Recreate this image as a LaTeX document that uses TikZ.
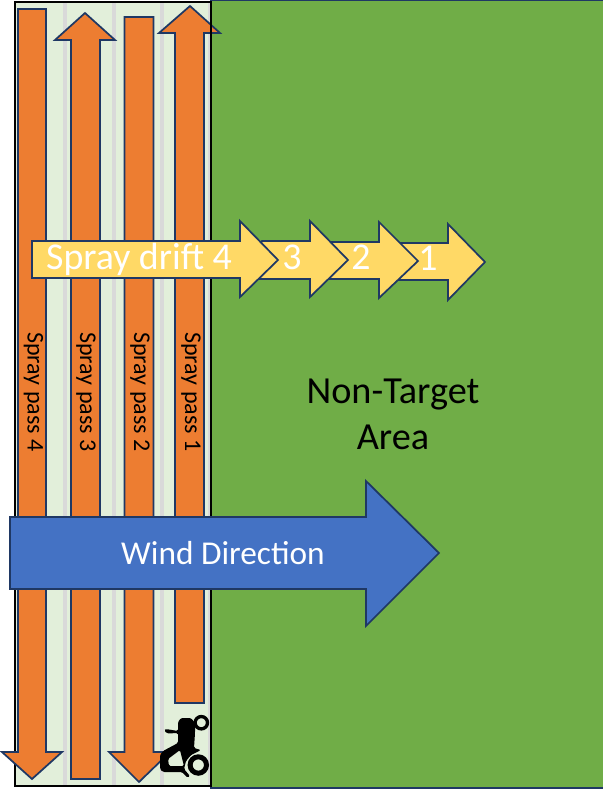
\documentclass[tikz,border=0pt]{standalone}
\usepackage{fontspec}
\setmainfont{Carlito}
\definecolor{edgeblue}{HTML}{1F3864}
\definecolor{fieldgreen}{HTML}{70AD47}
\definecolor{buffer}{HTML}{E2EFDA}
\definecolor{stripe}{HTML}{D9D9D9}
\definecolor{passorange}{HTML}{ED7D31}
\definecolor{driftyellow}{HTML}{FFD966}
\definecolor{windblue}{HTML}{4472C4}
\tikzset{
  pass/.style={fill=passorange,draw=edgeblue,line width=1.3pt,line join=miter},
  drift/.style={fill=driftyellow,draw=edgeblue,line width=1.3pt,line join=miter},
  wind/.style={fill=windblue,draw=edgeblue,line width=1.3pt,line join=miter},
  frameline/.style={draw=black,line width=1.5pt},
  passlabel/.style={rotate=-90,font=\fontsize{18}{20}\selectfont,text=black,inner sep=0pt},
  driftlabel/.style={text=white,inner sep=0pt,anchor=base,font=\fontsize{28.4}{32}\selectfont},
  stripeline/.style={fill=stripe,draw=none}
}
\begin{document}
\begin{tikzpicture}[x=0.75pt,y=-0.75pt]
\useasboundingbox (0,0) rectangle (603,789);
\fill[white] (0,0) rectangle (603,789);
% fields
\fill[buffer] (15,2) rectangle (211,786);
\draw[fill=fieldgreen,draw=edgeblue,line width=0.9pt] (211,0.5) rectangle (603.5,788);
\foreach \x in {63,112,160,208}
  \fill[stripeline] (\x,3) rectangle (\x+4,785);
\draw[frameline] (15,2) rectangle (211,786);
\fill[fieldgreen] (212,2) rectangle (603,787);
% spray passes
\draw[pass] (18,9) -- (46,9) -- (46,752) -- (62,752) -- (32,779) -- (2,752) -- (18,752) -- cycle;
\draw[pass] (85,13) -- (115,40) -- (100,40) -- (100,779) -- (71,779) -- (71,40) -- (55,40) -- cycle;
\draw[pass] (124.5,17) -- (153.5,17) -- (153.5,752) -- (170,752) -- (139,782) -- (109,752) -- (124.5,752) -- cycle;
\draw[pass] (190,6) -- (220,33) -- (204,33) -- (204,703) -- (175,703) -- (175,33) -- (159,33) -- cycle;
\draw[frameline] (211,2) -- (211,786);
% drift arrows
\draw[drift] (400,243) -- (448,243) -- (448,224) -- (485,262) -- (448,300) -- (448,280) -- (385,280) -- cycle;
\draw[drift] (330,242) -- (379,242) -- (379,222) -- (418,261) -- (379,298) -- (379,279) -- (315,279) -- cycle;
\draw[drift] (262,241) -- (310,241) -- (310,221) -- (348,260) -- (310,297) -- (310,279) -- (245,279) -- cycle;
\draw[drift] (32,241) -- (240,241) -- (240,221) -- (278,260) -- (240,297) -- (240,278) -- (32,278) -- cycle;
% wind arrow
\draw[wind] (10,517) -- (366,517) -- (366,481) -- (439,553) -- (366,626) -- (366,589) -- (10,589) -- cycle;
% tractor
\begin{scope}[black]
  \draw[line width=2.5pt,fill=buffer] (201.3,722.7) circle (6.2);
  \draw[line width=3.75pt,fill=buffer] (198.3,765) circle (8.2);
  \fill[even odd rule] [rounded corners=1.1pt] (178,722) -- (181,718) -- (191,718) -- (195,723) -- (195,733) -- (194,748) -- (201,750) -- (191,755) -- (186,761) -- (184,769) -- (190,776) -- (188,778) -- (182,772)
    -- (163,772) -- (160,769) -- (160,755) -- (163,751) -- (178,743) -- (178,733) -- (167,733.5) -- (164,730) -- (166,729) -- (178,731) -- cycle
    (168,759) -- (180,750) -- (184,766) -- (169,766) -- cycle;
\end{scope}
% text
\node[passlabel] (p4) at (33.5,392) {Spray pass 4};
\node[passlabel] (p3) at (86,392) {Spray pass 3};
\node[passlabel] (p2) at (140,392) {Spray pass 2};
\node[passlabel] (p1) at (191,392) {Spray pass 1};
\node[driftlabel] (d4) at (139,269) {Spray drift 4};
\node[driftlabel] (d3) at (292,269) {3};
\node[driftlabel] (d2) at (361,269) {2};
\node[driftlabel] (d1) at (428,270) {1};
\node[font=\fontsize{28.7}{34.5}\selectfont,align=center,text=black,inner sep=0pt] (area) at (393,414) {Non-Target\\Area};
\node[font=\fontsize{25}{28}\selectfont,text=white,inner sep=0pt] (wd) at (223,553) {Wind Direction};
\end{tikzpicture}
\end{document}
